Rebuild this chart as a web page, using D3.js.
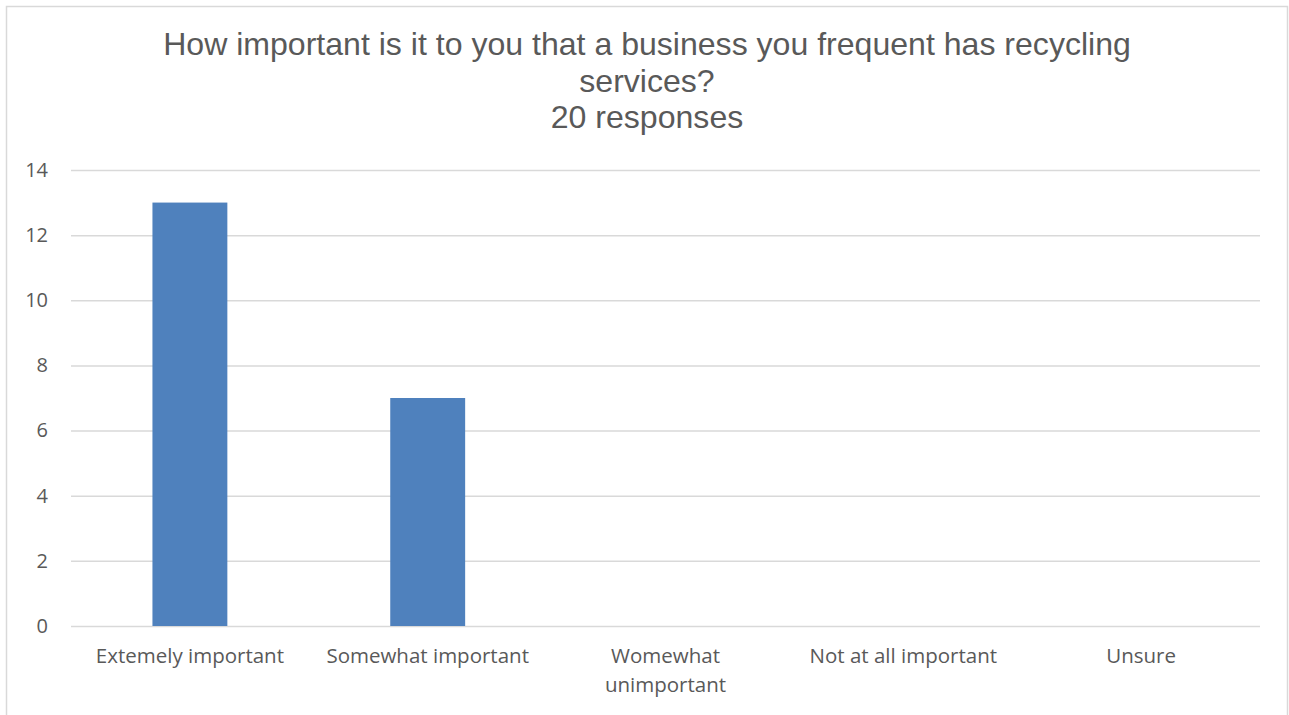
<!DOCTYPE html>
<html>
<head>
<meta charset="utf-8">
<script src="https://cdn.jsdelivr.net/npm/d3@7"></script>
<style>
  html, body { margin: 0; padding: 0; background: #fff; }
  #chart { width: 1289px; height: 715px; }
</style>
</head>
<body>
<div id="chart"></div>
<script>
// du lieu
const categories = ["Extemely important", "Somewhat important", "Womewhat unimportant", "Not at all important", "Unsure"];
const counts = [13, 7, 0, 0, 0];
const tickLabels = [["Extemely important"], ["Somewhat important"], ["Womewhat", "unimportant"], ["Not at all important"], ["Unsure"]];
const yTicks = [0, 2, 4, 6, 8, 10, 12, 14];
const titleLines = ["How important is it to you that a business you frequent has recycling", "services?", "20 responses"];

const W = 1289, H = 715;
const margin = { top: 170, right: 29, bottom: 89, left: 71 };
const width = W - margin.left - margin.right;
const height = H - margin.top - margin.bottom;

const svg = d3.select("#chart").append("svg")
  .attr("width", W)
  .attr("height", H);

// khung
svg.append("rect")
  .attr("x", 6.5).attr("y", 6.5)
  .attr("width", 1281).attr("height", 720)
  .attr("fill", "#fff")
  .attr("stroke", "#d9d9d9")
  .attr("stroke-width", 1.5);

// tieu de
const title = svg.append("g").attr("transform", "translate(647,0)");
const titleY = [55, 92, 128];
const titleText = title.selectAll("text")
  .data(titleLines)
  .enter()
  .append("text")
  .attr("x", 0)
  .attr("y", (d, i) => titleY[i])
  .attr("text-anchor", "middle")
  .style("font-family", "'Liberation Sans', Arial, sans-serif")
  .style("font-size", "31px")
  .style("fill", "#595959")
  .text(d => d);
// nen chu theo chieu ngang cho giong anh goc
const w0 = titleText.node().getComputedTextLength();
title.attr("transform", `translate(647,0) scale(${968 / w0},1)`);

const g = svg.append("g")
  .attr("transform", `translate(${margin.left},${margin.top})`);

const x = d3.scaleBand()
  .domain(categories)
  .range([0, width])
  .paddingInner(0.685)
  .paddingOuter(0.3425);

const y = d3.scaleLinear()
  .domain([0, 14])
  .range([height, 0]);

// luoi
g.append("g")
  .call(d3.axisLeft(y).tickValues(yTicks).tickSize(-width).tickFormat(""))
  .call(a => a.select(".domain").remove())
  .selectAll("line")
  .attr("stroke", "#d9d9d9")
  .attr("stroke-width", 1.5);

// nhan truc y
g.append("g")
  .call(d3.axisLeft(y).tickValues(yTicks).tickSize(0).tickPadding(23))
  .call(a => a.select(".domain").remove())
  .selectAll("text")
  .style("font-family", "'Open Sans', 'Noto Sans', sans-serif")
  .style("font-size", "20px")
  .style("fill", "#595959");

// cot
g.selectAll(".bar")
  .data(categories)
  .enter()
  .append("rect")
  .attr("class", "bar")
  .attr("x", d => x(d))
  .attr("y", (d, i) => y(counts[i]))
  .attr("width", x.bandwidth())
  .attr("height", (d, i) => height - y(counts[i]))
  .attr("fill", "#4f81bd");

// nhan truc x
const xl = g.append("g")
  .selectAll("text")
  .data(categories)
  .enter()
  .append("text")
  .attr("x", d => x(d) + x.bandwidth() / 2)
  .attr("y", height + 37)
  .attr("text-anchor", "middle")
  .style("font-family", "'Open Sans', 'Noto Sans', sans-serif")
  .style("font-size", "20.5px")
  .style("fill", "#595959");

xl.selectAll("tspan")
  .data((d, i) => tickLabels[i])
  .enter()
  .append("tspan")
  .attr("x", function() { return this.parentNode.getAttribute("x"); })
  .attr("dy", (d, i) => i === 0 ? 0 : 29)
  .text(d => d);
</script>
</body>
</html>
